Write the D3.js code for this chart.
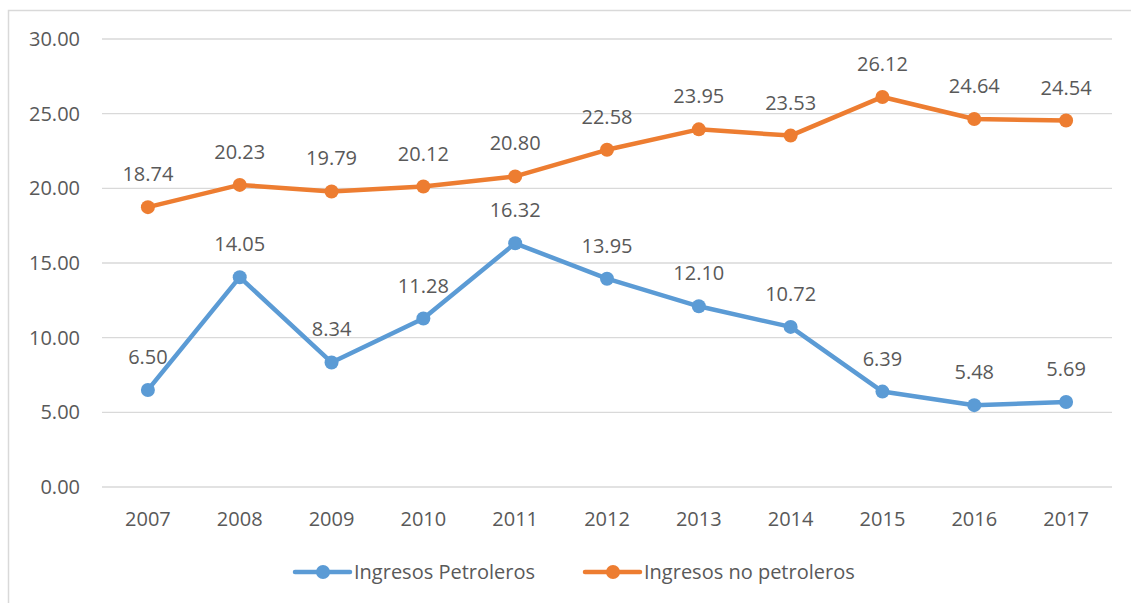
<!DOCTYPE html>
<html>
<head>
<meta charset="utf-8">
<script src="https://cdn.jsdelivr.net/npm/d3@7"></script>
<style>
  body { margin: 0; background: #fff; }
  text { font-family: "Open Sans", sans-serif; fill: #595959; }
</style>
</head>
<body>
<div id="chart"></div>
<script>
const years = ["2007","2008","2009","2010","2011","2012","2013","2014","2015","2016","2017"];
const petroleros = [6.50, 14.05, 8.34, 11.28, 16.32, 13.95, 12.10, 10.72, 6.39, 5.48, 5.69];
const noPetroleros = [18.74, 20.23, 19.79, 20.12, 20.80, 22.58, 23.95, 23.53, 26.12, 24.64, 24.54];
const yTicks = [0, 5, 10, 15, 20, 25, 30];
const seriesNames = ["Ingresos Petroleros", "Ingresos no petroleros"];
const colors = ["#5B9BD5", "#ED7D31"];

let width = 1131, height = 603;
let margin = {left: 102, right: 1112, top: 39, bottom: 487};

let svg = d3.select("#chart").append("svg")
    .attr("width", width)
    .attr("height", height);

// outer chart border
svg.append("rect")
    .attr("x", 8.5).attr("y", 10.5)
    .attr("width", 1140).attr("height", 620)
    .attr("fill", "none")
    .attr("stroke", "#d9d9d9")
    .attr("stroke-width", 1.5);

let x = d3.scaleBand().domain(years).range([margin.left, margin.right]);
let y = d3.scaleLinear().domain([0, 30]).range([margin.bottom, margin.top]);
let cx = d => x(d) + x.bandwidth() / 2;

// gridlines
svg.append("g").selectAll("line")
    .data(yTicks).enter()
    .append("line")
    .attr("x1", margin.left).attr("x2", margin.right)
    .attr("y1", d => y(d)).attr("y2", d => y(d))
    .attr("stroke", "#d9d9d9")
    .attr("stroke-width", 1.3);

// y labels
svg.append("g").selectAll("text")
    .data(yTicks).enter()
    .append("text")
    .attr("x", 80).attr("y", d => y(d))
    .attr("dy", "0.35em")
    .attr("text-anchor", "end")
    .style("font-size", "20px")
    .text(d => d.toFixed(2));

// x labels
svg.append("g").selectAll("text")
    .data(years).enter()
    .append("text")
    .attr("x", d => cx(d)).attr("y", 519)
    .attr("dy", "0.35em")
    .attr("text-anchor", "middle")
    .style("font-size", "20px")
    .text(d => d);

let line = d3.line().x((d, i) => cx(years[i])).y(d => y(d));

[petroleros, noPetroleros].forEach(function(vals, k) {
    let g = svg.append("g");
    g.append("path")
        .datum(vals)
        .attr("d", line)
        .attr("fill", "none")
        .attr("stroke", colors[k])
        .attr("stroke-width", 4.5)
        .attr("stroke-linejoin", "round")
        .attr("stroke-linecap", "round");
    g.selectAll("circle")
        .data(vals).enter()
        .append("circle")
        .attr("cx", (d, i) => cx(years[i]))
        .attr("cy", d => y(d))
        .attr("r", 7)
        .attr("fill", colors[k]);
    g.selectAll("text")
        .data(vals).enter()
        .append("text")
        .attr("x", (d, i) => cx(years[i]))
        .attr("y", d => y(d) - 33)
        .attr("dy", "0.35em")
        .attr("text-anchor", "middle")
        .style("font-size", "20px")
        .text(d => d.toFixed(2));
});

// legend
let legendX = [295, 585];
seriesNames.forEach(function(name, k) {
    let lg = svg.append("g").attr("transform", "translate(" + legendX[k] + ",572)");
    lg.append("line")
        .attr("x1", 0).attr("x2", 55)
        .attr("stroke", colors[k])
        .attr("stroke-width", 4.5)
        .attr("stroke-linecap", "round");
    lg.append("circle").attr("cx", 28).attr("r", 7).attr("fill", colors[k]);
    lg.append("text")
        .attr("x", 59).attr("dy", "0.35em")
        .style("font-size", "20px")
        .text(name);
});
</script>
</body>
</html>
